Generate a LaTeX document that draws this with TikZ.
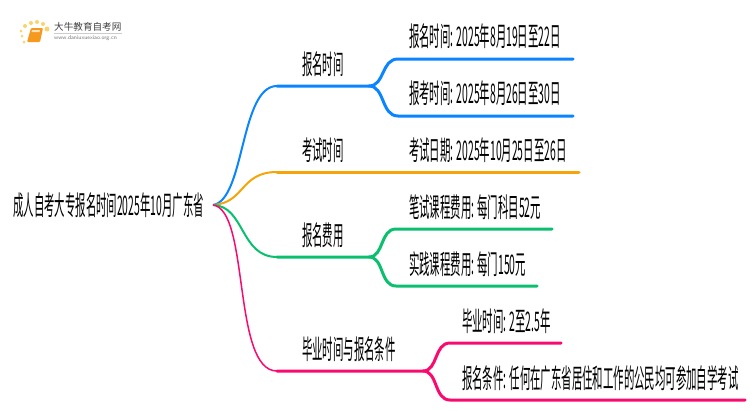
\documentclass[tikz,border=0pt]{standalone}
\usepackage{fontspec}
\usepackage{xcolor}
\usetikzlibrary{
    positioning,
    calc
}
\newfontfamily\cjk[FakeStretch=0.385]{Noto Sans CJK SC}
\newfontfamily\cjklogo{Noto Sans CJK SC}
\definecolor{mapblue}{HTML}{0A84FF}
\definecolor{maporange}{HTML}{F5A50A}
\definecolor{mapgreen}{HTML}{0ABF6E}
\definecolor{mappink}{HTML}{FA0A6E}
\definecolor{logoorange}{HTML}{F59A1E}
\definecolor{logodot}{HTML}{FBD36B}
\tikzset{
  basic/.style = {
      font=\cjk\fontsize{27}{27}\selectfont,
      inner sep=0pt,
      text=black
  },
  rootlabel/.style = {
      basic,
      anchor=east,
      inner xsep=9pt
  },
  topic/.style = {
      basic,
      anchor=west
  },
  leaf/.style = {
      basic,
      anchor=west
  },
  curve/.style = {
      line width=2pt
  },
  edge/.style = {
      line width=3pt,
      line cap=round
  },
  dot/.style = {
      circle,
      fill=logodot,
      inner sep=0pt
  }
}
\begin{document}
\begin{tikzpicture}[x=1pt,y=-1pt]
        \useasboundingbox (0,0) rectangle (750,410);
        % Logo
        \node[dot, minimum size=4pt] at (25,26) {};
        \node[dot, minimum size=3pt] at (21,31) {};
        \node[dot, minimum size=3pt] at (22,36) {};
        \node[dot, minimum size=3pt] at (24,42) {};
        \node[dot, minimum size=4pt] at (31,23) {};
        \node[dot, minimum size=4pt] at (37,22) {};
        \node[dot, minimum size=4pt] at (43,24) {};
        \node[dot, minimum size=5pt] at (47,29) {};
        \fill[logoorange, rounded corners=1pt] (31,28) -- (43,28) -- (40,42) -- (27,42) -- cycle;
        \fill[white!70!logoorange] (32,30) -- (40,30) -- (39.5,32) -- (31.5,32) -- cycle;
        \node[anchor=west, inner sep=0pt, font=\cjklogo\fontsize{9.6}{10}\selectfont, text=black!75] (logoname) at (54,27) {大牛教育自考网};
        \node[anchor=west, inner sep=0pt, font=\sffamily\fontsize{5.6}{6}\selectfont, text=black!55] (logourl) at (54,38.5) {www.daniuxuexiao.org.cn};
        \draw[black!20, line width=.5pt] (54,33) -- (122,33);
        % Nodes
        \node[rootlabel] (root) at (213,205) {成人自考大专报名时间2025年10月广东省};
        \node[topic] (A) at (302,64) {报名时间};
        \node[topic] (B) at (302,150) {考试时间};
        \node[topic] (C) at (302,235) {报名费用};
        \node[topic] (D) at (302,349) {毕业时间与报名条件};
        \node[leaf] (A1) at (409,36) {报名时间: 2025年8月19日至22日};
        \node[leaf] (A2) at (409,93) {报考时间: 2025年8月26日至30日};
        \node[leaf] (B1) at (409,150) {考试日期: 2025年10月25日至26日};
        \node[leaf] (C1) at (409,207) {笔试课程费用: 每门科目52元};
        \node[leaf] (C2) at (409,264) {实践课程费用: 每门150元};
        \node[leaf] (D1) at (462,321) {毕业时间: 2至2.5年};
        \node[leaf] (D2) at (462,378) {报名条件: 任何在广东省居住和工作的公民均可参加自学考试};
        % Junctions
        \coordinate (Ab) at (277,86);
        \coordinate (Aj) at (369,86);
        \coordinate (Bb) at (277,172);
        \coordinate (Cb) at (277,257);
        \coordinate (Cj) at (369,257);
        \coordinate (Db) at (277,371);
        \coordinate (Dj) at (423,371);
        \coordinate (Ae1) at (573,59);
        \coordinate (Ae2) at (573,116);
        \coordinate (Be) at (579,172);
        \coordinate (Ce1) at (552,229);
        \coordinate (Ce2) at (537,286);
        \coordinate (De1) at (561,343);
        \coordinate (De2) at (745,400);
        % Edges
        \path[draw, curve, mapblue]
        (root.east) .. controls (245,200) and (240,86) .. (Ab);
        \path[draw, curve, maporange]
        (root.east) .. controls (245,203) and (240,172) .. (Bb);
        \path[draw, curve, mapgreen]
        (root.east) .. controls (245,206) and (240,257) .. (Cb);
        \path[draw, curve, mappink, line width=1.5pt]
        (root.east) .. controls (250,210) and (232,371) .. (Db);
        \path[draw, edge, mapblue]
        (Ab) -- (Aj) .. controls (385,86) and (381,59) .. (398,59) -- (Ae1);
        \path[draw, edge, mapblue]
        (Aj) .. controls (385,86) and (381,116) .. (398,116) -- (Ae2);
        \path[draw, edge, maporange] (Bb) -- (Be);
        \path[draw, edge, mapgreen]
        (Cb) -- (Cj) .. controls (384,257) and (380,229) .. (396,229) -- (Ce1);
        \path[draw, edge, mapgreen]
        (Cj) .. controls (384,257) and (380,286) .. (396,286) -- (Ce2);
        \path[draw, edge, mappink]
        (Db) -- (Dj) .. controls (438,371) and (434,343) .. (450,343) -- (De1);
        \path[draw, edge, mappink]
        (Dj) .. controls (438,371) and (434,400) .. (450,400) -- (De2);
    \end{tikzpicture}
\end{document}
